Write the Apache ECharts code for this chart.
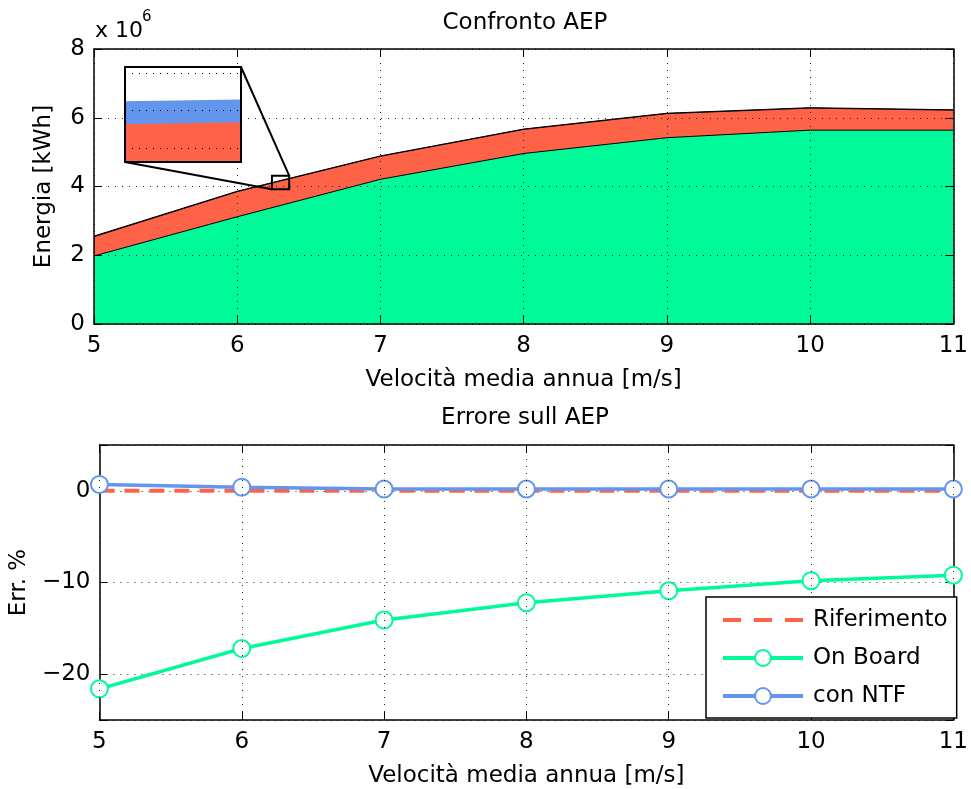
<!DOCTYPE html>
<html><head><meta charset="utf-8">
<script src="https://cdn.jsdelivr.net/npm/echarts@6/dist/echarts.min.js"></script>
<style>html,body{margin:0;padding:0;background:#fff}#c{width:971px;height:789px}</style>
</head><body><div id="c"></div>
<script>
// ---------- data ----------
const windSpeeds = [5, 6, 7, 8, 9, 10, 11];               // m/s
const aepRiferimento = [2.54, 3.85, 4.88, 5.66, 6.12, 6.28, 6.22]; // x10^6 kWh
const aepOnBoard     = [1.98, 3.12, 4.21, 4.96, 5.42, 5.64, 5.64];
const aepConNTF      = [2.558, 3.863, 4.890, 5.671, 6.132, 6.293, 6.232];
const errRiferimento = [0, 0, 0, 0, 0, 0, 0];             // %
const errOnBoard     = [-21.6, -17.2, -14.1, -12.2, -10.9, -9.8, -9.2];
const errConNTF      = [0.7, 0.4, 0.2, 0.2, 0.2, 0.2, 0.2];
const speedTicks  = [5, 6, 7, 8, 9, 10, 11];
const energyTicks = [0, 2, 4, 6, 8];
const errTicks    = [-20, -10, 0];
// zoom window (data space of the top axes) and the inset axes ranges
const zoomBoxX = [6.2425, 6.3627];
const zoomBoxY = [3.918, 4.314];
const insetX = [6.2939, 6.2949];
const insetY = [4.1326, 4.1831];
const insetGridX = [6.294];
const insetGridY = [4.14, 4.16, 4.18];

const FONT = 'DejaVu Sans';
const C_RED = '#FF6347', C_GREEN = '#00FA9A', C_BLUE = '#6495ED';

const pairs = (ys) => windSpeeds.map((x, i) => [x, ys[i]]);
const minus = (s) => String(s).replace('-', '\u2212');

const chart = echarts.init(document.getElementById('c'), null, {renderer: 'canvas'});

const lbl = {fontFamily: FONT, fontSize: 23, color: '#000'};
const axLine = {show: true, onZero: false, lineStyle: {color: '#000', width: 1.5}};
const tick = {show: true, inside: true, length: 8, lineStyle: {color: '#000', width: 1}};
const grid = {show: true, lineStyle: {color: '#222', width: 1, type: [1, 6]}};
const insetLine = {show: true, onZero: false, lineStyle: {color: '#000', width: 2}};

function mainX(gi, pos, showLabel, name) {
  return {
    type: 'value', gridIndex: gi, position: pos, min: 5, max: 11, interval: 1, z: 10,
    axisLine: axLine, axisTick: tick,
    splitLine: showLabel ? grid : {show: false},
    axisLabel: showLabel ? Object.assign({margin: 11, formatter: v => speedTicks.includes(v) ? String(v) : ''}, lbl) : {show: false},
    name: name || '', nameLocation: 'middle', nameGap: 45, nameTextStyle: lbl
  };
}
function insetAxis(pos, range) {
  return {type: 'value', gridIndex: 2, position: pos, min: range[0], max: range[1], z: 13,
    axisLine: insetLine, axisTick: {show: false}, axisLabel: {show: false}, splitLine: {show: false}};
}

const option = {
  animation: false,
  backgroundColor: '#fff',
  grid: [
    {left: 94, top: 49, width: 863, height: 275},
    {left: 94, top: 445, width: 863, height: 275},
    {left: 125, top: 67, width: 116, height: 95, show: true, backgroundColor: '#fff', borderWidth: 0, z: 11}
  ],
  xAxis: [
    mainX(0, 'bottom', true, 'Velocità media annua [m/s]'),
    mainX(0, 'top', false),
    mainX(1, 'bottom', true, 'Velocità media annua [m/s]'),
    mainX(1, 'top', false),
    insetAxis('bottom', insetX),
    insetAxis('top', insetX)
  ],
  yAxis: [
    {type: 'value', gridIndex: 0, position: 'left', min: 0, max: 8, interval: 2, z: 10,
     axisLine: axLine, axisTick: tick, splitLine: grid,
     axisLabel: Object.assign({margin: 9, formatter: v => energyTicks.includes(v) ? String(v) : ''}, lbl),
     name: 'Energia [kWh]', nameLocation: 'middle', nameGap: 38, nameTextStyle: lbl},
    {type: 'value', gridIndex: 0, position: 'right', min: 0, max: 8, interval: 2, z: 10,
     axisLine: axLine, axisTick: tick, splitLine: {show: false}, axisLabel: {show: false}},
    {type: 'value', gridIndex: 1, position: 'left', min: -25, max: 5, splitNumber: 3,
     axisLine: axLine, axisTick: tick, splitLine: grid,
     axisLabel: Object.assign({margin: 9, formatter: v => errTicks.includes(v) ? minus(v) : ''}, lbl),
     name: 'Err. %', nameLocation: 'middle', nameGap: 56, nameTextStyle: lbl},
    {type: 'value', gridIndex: 1, position: 'right', min: -25, max: 5, splitNumber: 3,
     axisLine: axLine, axisTick: tick, splitLine: {show: false}, axisLabel: {show: false}},
    insetAxis('left', insetY),
    insetAxis('right', insetY)
  ],
  legend: {
    data: [
      {name: 'Riferimento', itemStyle: {opacity: 0}, lineStyle: {width: 4, color: C_RED, type: [18, 13]}},
      {name: 'On Board', lineStyle: {width: 4, color: C_GREEN, type: 'solid'}},
      {name: 'con NTF', lineStyle: {width: 4, color: C_BLUE, type: 'solid'}}
    ],
    orient: 'vertical', left: 706, top: 597,
    itemWidth: 80, itemHeight: 20, itemGap: 12,
    padding: [10, 9, 9, 15],
    backgroundColor: '#fff', borderColor: '#000', borderWidth: 1.5, borderRadius: 0,
    textStyle: {fontFamily: FONT, fontSize: 23, color: '#000', lineHeight: 26, padding: [0, 0, 0, 5]},
    selectedMode: false, z: 20
  },
  series: [
    // top: areas
    {name: 'AEP con NTF', type: 'line', xAxisIndex: 0, yAxisIndex: 0, data: pairs(aepConNTF), z: 2,
     symbol: 'none', lineStyle: {color: '#000', width: 1}, areaStyle: {color: C_BLUE, opacity: 1}},
    {name: 'AEP Riferimento', type: 'line', xAxisIndex: 0, yAxisIndex: 0, data: pairs(aepRiferimento), z: 3,
     symbol: 'none', lineStyle: {color: '#000', width: 1}, areaStyle: {color: C_RED, opacity: 1}},
    {name: 'AEP On Board', type: 'line', xAxisIndex: 0, yAxisIndex: 0, data: pairs(aepOnBoard), z: 4,
     symbol: 'none', lineStyle: {color: '#000', width: 1}, areaStyle: {color: C_GREEN, opacity: 1}},
    // inset
    {name: 'Zoom con NTF', type: 'line', xAxisIndex: 4, yAxisIndex: 4, data: pairs(aepConNTF), z: 12, clip: true,
     symbol: 'none', lineStyle: {width: 0, color: C_BLUE}, areaStyle: {color: C_BLUE, opacity: 1}},
    {name: 'Zoom Riferimento', type: 'line', xAxisIndex: 4, yAxisIndex: 4, data: pairs(aepRiferimento), z: 12, clip: true,
     symbol: 'none', lineStyle: {width: 0, color: C_RED}, areaStyle: {color: C_RED, opacity: 1},
     markLine: {silent: true, z: 14, symbol: ['none', 'none'], label: {show: false},
       lineStyle: {color: '#000', width: 1, type: [1, 6]},
       data: insetGridY.map(v => ({yAxis: v})).concat(insetGridX.map(v => ({xAxis: v})))}},
    // bottom: errors
    {name: 'Riferimento', type: 'line', xAxisIndex: 2, yAxisIndex: 2, data: pairs(errRiferimento), z: 3,
     symbol: 'none', lineStyle: {color: C_RED, width: 4, type: [15, 10]}, itemStyle: {color: C_RED}},
    {name: 'On Board', type: 'line', xAxisIndex: 2, yAxisIndex: 2, data: pairs(errOnBoard), z: 4,
     symbol: 'emptyCircle', symbolSize: 17, lineStyle: {color: C_GREEN, width: 3.5},
     itemStyle: {color: C_GREEN, borderColor: C_GREEN, borderWidth: 3.5}},
    {name: 'con NTF', type: 'line', xAxisIndex: 2, yAxisIndex: 2, data: pairs(errConNTF), z: 5,
     symbol: 'emptyCircle', symbolSize: 17, lineStyle: {color: C_BLUE, width: 3.5},
     itemStyle: {color: C_BLUE, borderColor: C_BLUE, borderWidth: 3.5}}
  ],
  graphic: {elements: [
    {id: 't1', type: 'text', x: 525, y: 23, z: 30, style: {text: 'Confronto AEP', font: '23px "DejaVu Sans"', fill: '#000', textAlign: 'center', textVerticalAlign: 'middle'}},
    {id: 't2', type: 'text', x: 525, y: 418, z: 30, style: {text: 'Errore sull AEP', font: '23px "DejaVu Sans"', fill: '#000', textAlign: 'center', textVerticalAlign: 'middle'}},
    {id: 'e1', type: 'text', x: 95, y: 31, z: 30, style: {text: 'x 10', font: '22px "DejaVu Sans"', fill: '#000', textAlign: 'left', textVerticalAlign: 'middle'}},
    {id: 'e2', type: 'text', x: 142, y: 17, z: 30, style: {text: '6', font: '15px "DejaVu Sans"', fill: '#000', textAlign: 'left', textVerticalAlign: 'middle'}}
  ]}
};
chart.setOption(option);

// zoom marker and connectors, placed through the axes' own scales
const pMain = (x, y) => chart.convertToPixel({xAxisIndex: 0, yAxisIndex: 0}, [x, y]);
const pInset = (x, y) => chart.convertToPixel({xAxisIndex: 4, yAxisIndex: 4}, [x, y]);
const zTL = pMain(zoomBoxX[0], zoomBoxY[1]);
const zBR = pMain(zoomBoxX[1], zoomBoxY[0]);
const iTR = pInset(insetX[1], insetY[1]);
const iBL = pInset(insetX[0], insetY[0]);
chart.setOption({graphic: {elements: [
  {id: 'zr', type: 'rect', z: 30, shape: {x: zTL[0], y: zTL[1], width: zBR[0] - zTL[0], height: zBR[1] - zTL[1]},
   style: {fill: 'none', stroke: '#000', lineWidth: 2}},
  {id: 'l1', type: 'line', z: 30, shape: {x1: iTR[0], y1: iTR[1], x2: zBR[0], y2: zTL[1]}, style: {stroke: '#000', lineWidth: 2}},
  {id: 'l2', type: 'line', z: 30, shape: {x1: iBL[0], y1: iBL[1], x2: zTL[0], y2: zBR[1]}, style: {stroke: '#000', lineWidth: 2}}
]}});
</script>
</body></html>
